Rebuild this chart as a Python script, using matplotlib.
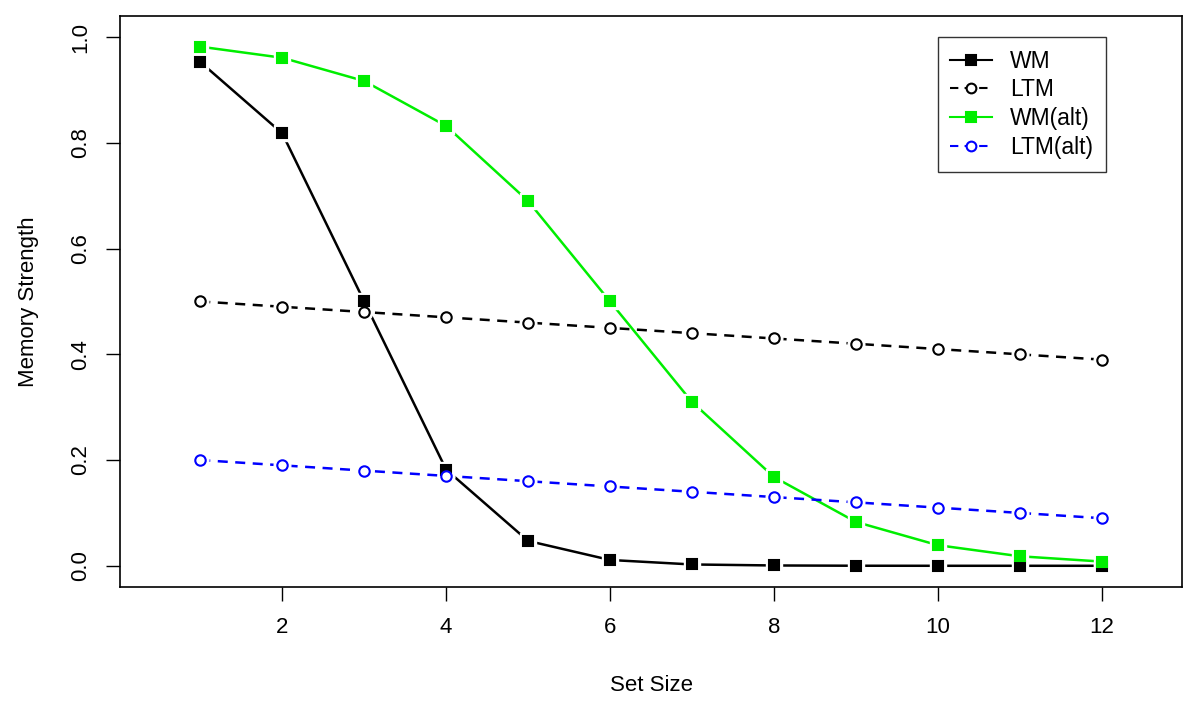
import matplotlib.pyplot as plt
from matplotlib.lines import Line2D

plt.rcParams['font.family'] = ['Liberation Sans', 'DejaVu Sans']

# данные
set_size = [1, 2, 3, 4, 5, 6, 7, 8, 9, 10, 11, 12]
wm = [0.953, 0.818, 0.500, 0.182, 0.047, 0.011, 0.0025, 0.0006, 0.0001, 0.0, 0.0, 0.0]
ltm = [0.50, 0.49, 0.48, 0.47, 0.46, 0.45, 0.44, 0.43, 0.42, 0.41, 0.40, 0.39]
wm_alt = [0.982, 0.961, 0.917, 0.832, 0.690, 0.500, 0.310, 0.168, 0.083, 0.039, 0.018, 0.008]
ltm_alt = [0.20, 0.19, 0.18, 0.17, 0.16, 0.15, 0.14, 0.13, 0.12, 0.11, 0.10, 0.09]
y_ticks = [0.0, 0.2, 0.4, 0.6, 0.8, 1.0]
x_ticks = [2, 4, 6, 8, 10, 12]

series = [
    ('WM', wm, 'black', '-', 's', 'black'),
    ('LTM', ltm, 'black', (0, (4, 3)), 'o', 'white'),
    ('WM(alt)', wm_alt, '#00ee00', '-', 's', '#00ee00'),
    ('LTM(alt)', ltm_alt, 'blue', (0, (4, 3)), 'o', 'white'),
]

fig = plt.figure(figsize=(12, 7.08), dpi=100)
ax = fig.add_axes([0.1, 0.171, 0.885, 0.8064])

handles = []
z = 2
for name, vals, col, ls, mk, fc in series:
    ax.plot(set_size, vals, color=col, linestyle=ls, linewidth=1.8, zorder=z)
    # белая подложка — разрывы линии у точек, как в R type="b"
    ax.plot(set_size, vals, linestyle='none', marker=mk, markersize=12,
            markerfacecolor='white', markeredgecolor='white', zorder=z + 0.1)
    handles.append(Line2D([0], [0], color=col, linestyle=ls, linewidth=1.5,
                          marker=mk, markersize=7, markerfacecolor=fc,
                          markeredgecolor=col, markeredgewidth=1.5))
    z += 1

# маркеры поверх всего
for name, vals, col, ls, mk, fc in series:
    ax.plot(set_size, vals, linestyle='none', marker=mk, markersize=7.5,
            markerfacecolor=fc, markeredgecolor=col, markeredgewidth=1.5, zorder=10)

ax.set_xlim(0.02, 12.98)
ax.set_ylim(-0.04, 1.04)
ax.set_xticks(x_ticks)
ax.set_yticks(y_ticks)
ax.set_yticklabels([f'{v:.1f}' for v in y_ticks], rotation=90, va='center')
ax.tick_params(axis='both', labelsize=16, length=10, width=1, pad=12)
ax.tick_params(axis='y', pad=11)
for s in ax.spines.values():
    s.set_linewidth(1.2)

ax.set_xlabel('Set Size', fontsize=16, labelpad=26)
ax.set_ylabel('Memory Strength', fontsize=16, labelpad=22)

leg = ax.legend(handles, [s[0] for s in series], loc='upper left',
                bbox_to_anchor=(0.77, 0.963), fontsize=16.5, frameon=True,
                fancybox=False, edgecolor='black', handlelength=1.8,
                borderpad=0.55, labelspacing=0.25, handletextpad=0.8,
                borderaxespad=0)
leg.get_frame().set_linewidth(1.0)

fig.savefig('out.png', dpi=100)
